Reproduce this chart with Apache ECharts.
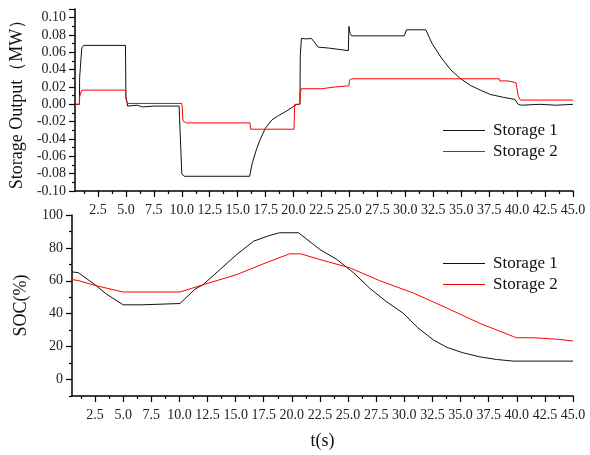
<!DOCTYPE html>
<html>
<head>
<meta charset="utf-8">
<script src="https://cdn.jsdelivr.net/npm/echarts@6/dist/echarts.min.js"></script>
<style>
  html, body { margin: 0; padding: 0; background: #fff; }
  #chart { width: 590px; height: 455px; }
</style>
</head>
<body>
<div id="chart"></div>
<script>
// 储能出力 (MW)，[t, value]
const output1 = [
  [0.45, 0], [0.84, 0], [0.86, 0.031], [1.02, 0.031], [1.05, 0.065], [1.2, 0.068],
  [4.96, 0.068], [5.0, 0.009], [5.1, 0.002], [5.15, -0.002], [5.3, -0.003], [6.0, -0.001],
  [6.5, -0.003], [7.5, -0.002], [8.5, -0.002], [9.76, -0.002], [9.8, -0.016], [9.95, -0.016],
  [10.0, -0.080], [10.2, -0.083], [16.07, -0.083], [16.3, -0.068], [16.7, -0.051], [17.0, -0.041],
  [17.46, -0.028], [18.05, -0.018], [18.65, -0.013], [19.4, -0.0075], [20.04, -0.002], [20.3, 0],
  [20.57, 0], [20.6, 0.056], [20.7, 0.076], [21.2, 0.0755], [21.6, 0.076], [22.2, 0.066],
  [23.1, 0.065], [24.9, 0.062], [24.95, 0.09], [25.05, 0.082], [25.2, 0.079], [29.9, 0.079],
  [30.1, 0.086], [31.83, 0.086], [32.4, 0.070], [33.2, 0.054], [34.05, 0.040], [34.9, 0.030],
  [35.8, 0.022], [36.7, 0.0164], [37.6, 0.0114], [38.8, 0.008], [39.8, 0.0057], [40.1, 0],
  [40.4, -0.001], [42, 0], [43.5, -0.001], [45, 0]
]
const output2 = [
  [0.45, 0], [0.84, 0], [0.86, 0.009], [1.02, 0.009], [1.05, 0.0164], [4.96, 0.0164],
  [5.0, 0.006], [5.15, 0.001], [10.0, 0.001], [10.05, -0.005], [10.1, -0.019], [10.4, -0.0214],
  [16.1, -0.0214], [16.15, -0.0287], [20.04, -0.0287], [20.1, 0], [20.55, 0], [20.6, 0.013],
  [20.7, 0.018], [22.5, 0.018], [22.55, 0.02], [23.7, 0.02], [23.75, 0.0214], [24.95, 0.0214],
  [25.0, 0.028], [25.2, 0.0295], [38.4, 0.0295], [38.45, 0.027], [39.2, 0.027], [39.25, 0.025],
  [39.9, 0.025], [40.1, 0.0095], [40.3, 0.0049], [45, 0.0049]
]

// SOC (%)
const soc1 = [
  [0.45, 65.4], [1.0, 65.0], [2.5, 57.6], [3.5, 52], [5.0, 45.4], [6.6, 45.4], [6.65, 46.2],
  [10.05, 46.2], [11.4, 55], [12.1, 57.6], [13.6, 66.8], [15.1, 76], [16.6, 84.1], [18.05, 87.6],
  [18.9, 89.2], [20.6, 89.2], [22.5, 79], [24.0, 73], [25.5, 64.8], [26.9, 55.6], [28.4, 47.4],
  [29.9, 40.3], [31.2, 31.5], [32.6, 24], [33.8, 19.5], [35.2, 16.3], [36.7, 13.8], [38.2, 12.2],
  [39.7, 11.2], [45, 11.2]
]
const soc2 = [
  [0.45, 60.7], [1.0, 60.2], [2.5, 57.2], [5.0, 53.2], [10.05, 53.2], [12.1, 57.6], [15.1, 63.8],
  [18.05, 71.9], [19.8, 76.4], [20.8, 76.4], [22.5, 72.9], [25.2, 67.8], [27.8, 60.1], [30.8, 52.6],
  [33.8, 43.4], [36.7, 34.2], [39.7, 26.1], [40.0, 25.4], [41.5, 25.4], [41.55, 24.4], [43.8, 24.4],
  [43.85, 23.4], [45, 23.4]
]

// 刻度
const tTicks = [2.5, 5, 7.5, 10, 12.5, 15, 17.5, 20, 22.5, 25, 27.5, 30, 32.5, 35, 37.5, 40, 42.5, 45]
const tMinorTicks = [1.25, 3.75, 6.25, 8.75, 11.25, 13.75, 16.25, 18.75, 21.25, 23.75, 26.25,
  28.75, 31.25, 33.75, 36.25, 38.75, 41.25, 43.75]
const socTicks = [0, 20, 40, 60, 80, 100]
const socMinorTicks = [-10, 10, 30, 50, 70, 90]

const FONT = '"Liberation Serif", "Times New Roman", serif'
const BLACK = '#111'
const RED = '#ff0000'

const chart = echarts.init(document.getElementById('chart'))

// 每次返回新对象，避免多个坐标轴共用同一个配置对象
const axisLine = show => ({show: show, onZero: false, lineStyle: {color: '#000', width: 1.5}})
const tickStyle = () => ({color: '#000', width: 1.2})
const labelStyle = extra => Object.assign({fontFamily: FONT, fontSize: 14, color: '#222'}, extra)
const nameStyle = () => ({fontFamily: FONT, fontSize: 18, color: '#111'})

function timeAxis(grid, extra) {
  return [Object.assign({
    type: 'value', gridIndex: grid, min: 0.45, max: 45, position: 'bottom',
    axisLine: axisLine(true),
    splitLine: {show: false},
    axisTick: {show: true, length: 6, customValues: tTicks, lineStyle: tickStyle()},
    axisLabel: labelStyle({margin: 12, customValues: tTicks, formatter: v => v.toFixed(1)})
  }, extra), {
    // 次刻度
    type: 'value', gridIndex: grid, min: 0.45, max: 45, position: 'bottom',
    axisLine: axisLine(false),
    splitLine: {show: false},
    axisTick: {show: true, length: 3, customValues: tMinorTicks, lineStyle: tickStyle()},
    axisLabel: {show: false}
  }]
}

function legendAt(top) {
  return {
    orient: 'vertical', left: 438, top: top,
    itemWidth: 42, itemHeight: 14, itemGap: 4,
    icon: 'path://M0,7L42,7L42,8L0,8Z',
    textStyle: {fontFamily: FONT, fontSize: 17, color: '#111', padding: [0, 0, 0, 3]},
    data: ['Storage 1', 'Storage 2']
  }
}

function line(name, color, x, y, data) {
  return {
    name: name, type: 'line', xAxisIndex: x, yAxisIndex: y, data: data,
    symbol: 'none', lineStyle: {color: color, width: 1}, itemStyle: {color: color},
    animation: false
  }
}

const option = {
  backgroundColor: '#fff',
  animation: false,
  grid: [
    {left: 72, right: 17, top: 9, height: 182},
    {left: 72, right: 17, top: 215, height: 181}
  ],
  legend: [legendAt(117), legendAt(250)],
  xAxis: [
    ...timeAxis(0, {}),
    ...timeAxis(1, {name: 't(s)', nameLocation: 'middle', nameGap: 36, nameTextStyle: nameStyle()})
  ],
  yAxis: [
    {
      type: 'value', gridIndex: 0, min: -0.10, max: 0.11, interval: 0.02, position: 'left',
      name: 'Storage Output（MW）', nameLocation: 'middle', nameGap: 48,
      nameTextStyle: nameStyle(),
      axisLine: axisLine(true),
      splitLine: {show: false},
      axisTick: {show: true, length: 6, lineStyle: tickStyle()},
      minorTick: {show: true, splitNumber: 2, length: 3, lineStyle: tickStyle()},
      axisLabel: labelStyle({margin: 9, showMaxLabel: false, formatter: v => v.toFixed(2)})
    },
    {
      type: 'value', gridIndex: 1, min: -10, max: 100, position: 'left',
      name: 'SOC(%)', nameLocation: 'middle', nameGap: 42,
      nameTextStyle: nameStyle(),
      axisLine: axisLine(true),
      splitLine: {show: false},
      axisTick: {show: true, length: 6, customValues: socTicks, lineStyle: tickStyle()},
      axisLabel: labelStyle({margin: 9, customValues: socTicks})
    },
    {
      // 次刻度
      type: 'value', gridIndex: 1, min: -10, max: 100, position: 'left',
      axisLine: axisLine(false),
      splitLine: {show: false},
      axisTick: {show: true, length: 3, customValues: socMinorTicks, lineStyle: tickStyle()},
      axisLabel: {show: false}
    }
  ],
  series: [
    line('Storage 1', BLACK, 0, 0, output1),
    line('Storage 2', RED, 0, 0, output2),
    line('Storage 1', BLACK, 2, 1, soc1),
    line('Storage 2', RED, 2, 1, soc2)
  ]
}

chart.setOption(option)
</script>
</body>
</html>
